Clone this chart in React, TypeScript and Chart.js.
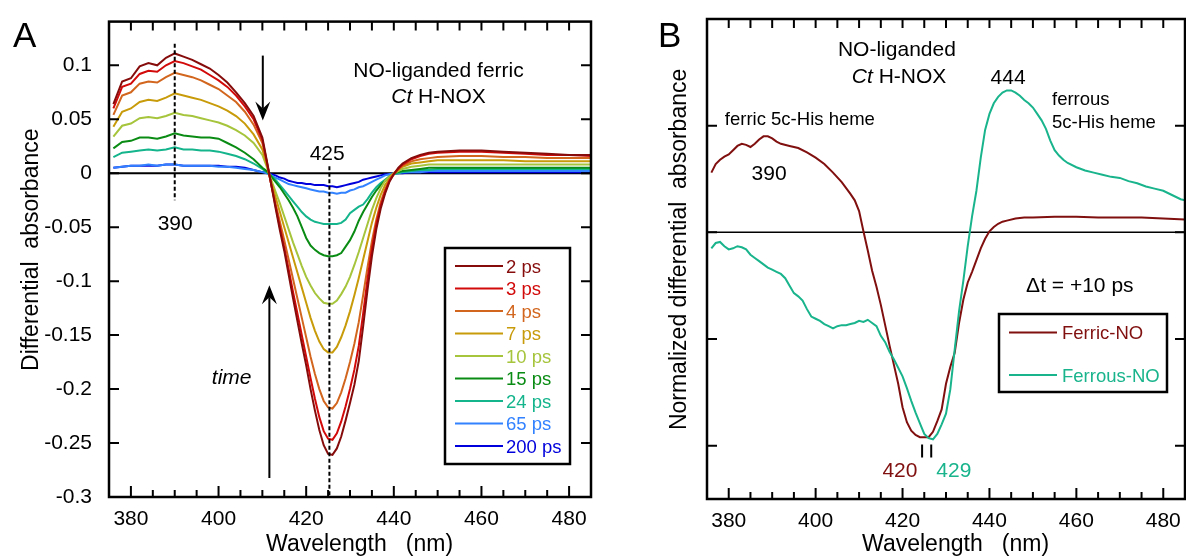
import React, { useEffect, useRef } from 'react';
import { Chart, registerables } from 'chart.js';

Chart.register(...registerables);

const FONT = '"Liberation Sans", Arial, Helvetica, sans-serif';
const INK = '#000';

// ---------------- Panel A data ----------------
const WL_A = [376, 378, 380, 382, 384, 386, 388, 390, 392, 394, 396, 398, 400, 402, 404, 406, 408, 410,
  411, 412, 413, 414, 415, 416, 417, 418, 419, 420, 421, 422, 423, 424, 425, 426, 427, 428, 429, 430,
  431, 432, 433, 434, 435, 436, 437, 438, 439, 440, 441, 442,
  444, 446, 448, 450, 455, 460, 465, 470, 475, 480, 485];

const A_2PS = [0.064, 0.085, 0.088, 0.099, 0.102, 0.100, 0.107, 0.111, 0.108, 0.105, 0.101, 0.097, 0.091, 0.084, 0.075, 0.065, 0.053, 0.033,
  0.012, -0.010, -0.032, -0.053, -0.072, -0.094, -0.116, -0.137, -0.158, -0.178, -0.200, -0.220, -0.238, -0.252, -0.260, -0.261, -0.255, -0.244, -0.229, -0.213,
  -0.196, -0.174, -0.142, -0.108, -0.077, -0.052, -0.033, -0.019, -0.008, -0.001, 0.005, 0.009,
  0.014, 0.017, 0.019, 0.020, 0.021, 0.021, 0.020, 0.019, 0.018, 0.017, 0.017];
const A_3PS = [0.060, 0.080, 0.083, 0.092, 0.095, 0.094, 0.100, 0.104, 0.102, 0.099, 0.096, 0.091, 0.086, 0.080, 0.072, 0.062, 0.050, 0.031,
  0.011, -0.010, -0.030, -0.050, -0.069, -0.089, -0.110, -0.130, -0.150, -0.170, -0.190, -0.209, -0.226, -0.239, -0.246, -0.247, -0.241, -0.230, -0.216, -0.200,
  -0.182, -0.160, -0.130, -0.098, -0.070, -0.047, -0.030, -0.017, -0.007, -0.001, 0.004, 0.008,
  0.013, 0.016, 0.018, 0.019, 0.020, 0.020, 0.019, 0.018, 0.017, 0.017, 0.016];
const A_4PS = [0.054, 0.072, 0.075, 0.083, 0.085, 0.084, 0.089, 0.093, 0.091, 0.089, 0.086, 0.082, 0.078, 0.072, 0.066, 0.057, 0.045, 0.028,
  0.010, -0.010, -0.028, -0.045, -0.062, -0.080, -0.098, -0.116, -0.134, -0.152, -0.170, -0.186, -0.200, -0.211, -0.217, -0.218, -0.213, -0.203, -0.190, -0.175,
  -0.158, -0.138, -0.113, -0.087, -0.063, -0.043, -0.027, -0.015, -0.006, 0.000, 0.004, 0.007,
  0.011, 0.013, 0.014, 0.015, 0.016, 0.016, 0.015, 0.015, 0.014, 0.014, 0.014];
const A_7PS = [0.043, 0.057, 0.060, 0.066, 0.068, 0.067, 0.070, 0.074, 0.072, 0.070, 0.068, 0.065, 0.062, 0.058, 0.053, 0.046, 0.036, 0.022,
  0.008, -0.008, -0.022, -0.036, -0.050, -0.064, -0.078, -0.092, -0.106, -0.120, -0.134, -0.146, -0.156, -0.163, -0.166, -0.166, -0.161, -0.152, -0.141, -0.128,
  -0.113, -0.097, -0.080, -0.063, -0.046, -0.032, -0.020, -0.011, -0.005, 0.000, 0.003, 0.006,
  0.009, 0.010, 0.011, 0.012, 0.012, 0.012, 0.012, 0.011, 0.011, 0.011, 0.011];
const A_10PS = [0.034, 0.044, 0.046, 0.051, 0.052, 0.051, 0.053, 0.056, 0.054, 0.053, 0.051, 0.049, 0.047, 0.044, 0.040, 0.035, 0.028, 0.017,
  0.006, -0.006, -0.017, -0.028, -0.040, -0.052, -0.064, -0.075, -0.086, -0.096, -0.104, -0.111, -0.116, -0.120, -0.121, -0.121, -0.118, -0.112, -0.105, -0.096,
  -0.085, -0.073, -0.060, -0.047, -0.034, -0.023, -0.014, -0.007, -0.003, 0.000, 0.002, 0.004,
  0.006, 0.007, 0.008, 0.008, 0.008, 0.008, 0.008, 0.008, 0.008, 0.008, 0.008];
const A_15PS = [0.023, 0.029, 0.030, 0.033, 0.033, 0.032, 0.034, 0.037, 0.035, 0.034, 0.033, 0.033, 0.032, 0.028, 0.024, 0.019, 0.013, 0.005,
  0.002, -0.003, -0.008, -0.013, -0.019, -0.025, -0.032, -0.040, -0.050, -0.060, -0.067, -0.071, -0.074, -0.076, -0.077, -0.077, -0.076, -0.074, -0.068, -0.062,
  -0.054, -0.044, -0.036, -0.029, -0.022, -0.016, -0.011, -0.007, -0.003, 0.000, 0.001, 0.002,
  0.003, 0.004, 0.005, 0.005, 0.005, 0.005, 0.005, 0.005, 0.005, 0.005, 0.005];
const A_24PS = [0.015, 0.019, 0.020, 0.021, 0.022, 0.021, 0.022, 0.024, 0.022, 0.022, 0.021, 0.021, 0.020, 0.018, 0.016, 0.013, 0.009, 0.004,
  0.001, -0.002, -0.006, -0.011, -0.016, -0.021, -0.026, -0.031, -0.036, -0.040, -0.043, -0.045, -0.046, -0.047, -0.047, -0.047, -0.047, -0.046, -0.043, -0.037,
  -0.034, -0.031, -0.029, -0.024, -0.018, -0.013, -0.009, -0.006, -0.003, -0.001, 0.000, 0.001,
  0.002, 0.003, 0.003, 0.004, 0.004, 0.004, 0.004, 0.004, 0.004, 0.004, 0.004];
const A_65PS = [0.005, 0.006, 0.007, 0.007, 0.008, 0.007, 0.008, 0.008, 0.007, 0.007, 0.007, 0.007, 0.006, 0.006, 0.005, 0.004, 0.003, 0.001,
  0.000, -0.002, -0.004, -0.006, -0.008, -0.010, -0.011, -0.012, -0.013, -0.014, -0.015, -0.016, -0.017, -0.017, -0.018, -0.018, -0.019, -0.018, -0.018, -0.016,
  -0.015, -0.013, -0.012, -0.010, -0.008, -0.006, -0.004, -0.002, -0.001, 0.000, 0.000, 0.001,
  0.001, 0.001, 0.002, 0.002, 0.002, 0.002, 0.002, 0.002, 0.002, 0.002, 0.002];
const A_200PS = [0.005, 0.006, 0.007, 0.007, 0.007, 0.007, 0.008, 0.008, 0.007, 0.007, 0.007, 0.007, 0.007, 0.006, 0.006, 0.005, 0.003, 0.001,
  0.001, -0.001, -0.002, -0.004, -0.005, -0.007, -0.008, -0.009, -0.009, -0.010, -0.010, -0.011, -0.011, -0.011, -0.012, -0.012, -0.013, -0.012, -0.011, -0.010,
  -0.009, -0.008, -0.006, -0.005, -0.004, -0.003, -0.002, -0.001, -0.001, 0.000, 0.000, 0.000,
  0.001, 0.001, 0.001, 0.001, 0.001, 0.001, 0.001, 0.001, 0.001, 0.001, 0.001];

const LABELS_A = ['2 ps', '3 ps', '4 ps', '7 ps', '10 ps', '15 ps', '24 ps', '65 ps', '200 ps'];
const COLORS_A = ['#860c0c', '#d20a0a', '#d2661e', '#c89b0a', '#a6c43c', '#0a8c14', '#14b48c', '#3282ff', '#0000dc'];
const SERIES_A = [A_2PS, A_3PS, A_4PS, A_7PS, A_10PS, A_15PS, A_24PS, A_65PS, A_200PS];

const X_MIN = 375;
const X_MAX = 485;
const X_TICKS = [380, 400, 420, 440, 460, 480];
const X_MINOR_STEP = 5;
const Y_TICKS_A = [-0.3, -0.25, -0.2, -0.15, -0.1, -0.05, 0, 0.05, 0.1];
const Y_LABELS_A = ['-0.3', '-0.25', '-0.2', '-0.15', '-0.1', '-0.05', '0', '0.05', '0.1'];

// ---------------- Panel B data ----------------
const FERRIC_WL = [376, 377, 378, 379, 380, 381, 382, 383, 384, 385, 386, 387, 388, 389, 390, 391, 392,
  394, 396, 398, 400, 402, 404, 406, 408,
  409, 410, 411, 412, 413, 414, 415, 416, 417, 418, 419, 420, 421, 422, 423, 424, 425, 426, 427, 428,
  429, 430, 431, 432, 433, 434, 435, 436, 437, 438, 439, 440, 441, 442, 443, 444,
  446, 448, 450, 455, 460, 465, 470, 475, 480, 485];
const FERRIC_VAL = [0.56, 0.64, 0.68, 0.71, 0.73, 0.77, 0.81, 0.83, 0.82, 0.80, 0.83, 0.87, 0.90, 0.90, 0.88, 0.85, 0.83,
  0.81, 0.79, 0.75, 0.70, 0.64, 0.56, 0.47, 0.36,
  0.30, 0.20, 0.01, -0.17, -0.36, -0.51, -0.68, -0.87, -1.06, -1.24, -1.42, -1.64, -1.78, -1.86, -1.90, -1.92, -1.92, -1.92, -1.87, -1.77,
  -1.66, -1.42, -1.26, -1.13, -0.85, -0.63, -0.47, -0.37, -0.26, -0.15, -0.06, 0.01, 0.05, 0.08, 0.10, 0.11,
  0.13, 0.14, 0.14, 0.145, 0.145, 0.14, 0.14, 0.14, 0.13, 0.12];

const FERROUS_WL = [376, 377, 378, 379, 380, 381, 382, 383, 384, 385, 386, 387, 388, 389, 390, 391, 392, 393, 394, 395,
  396, 397, 398, 399, 400, 401, 402, 403, 404, 405, 406, 407, 408, 409, 410, 411, 412, 413, 414, 415,
  416, 417, 418, 419, 420, 421, 422, 423, 424, 425, 426, 427, 428, 429, 430, 431, 432, 433, 434, 435,
  436, 437, 438, 439, 440, 441, 442, 443, 444, 445, 446, 447, 448, 449, 450, 451, 452, 453, 454, 455,
  456, 457, 458, 460, 462, 464, 466, 468, 470, 472, 474, 476, 478, 480, 482, 484, 485];
const FERROUS_VAL = [-0.15, -0.10, -0.09, -0.13, -0.16, -0.15, -0.13, -0.14, -0.16, -0.21, -0.24, -0.27, -0.30, -0.33, -0.35, -0.37, -0.39, -0.43, -0.50, -0.57,
  -0.60, -0.64, -0.72, -0.79, -0.81, -0.83, -0.86, -0.88, -0.90, -0.88, -0.87, -0.87, -0.86, -0.85, -0.83, -0.84, -0.82, -0.85, -0.88, -0.97,
  -1.03, -1.12, -1.19, -1.27, -1.35, -1.46, -1.58, -1.69, -1.79, -1.89, -1.93, -1.94, -1.89, -1.80, -1.70, -1.47, -1.10, -0.74, -0.45, -0.13,
  0.15, 0.39, 0.70, 0.96, 1.11, 1.21, 1.27, 1.31, 1.33, 1.33, 1.31, 1.28, 1.24, 1.21, 1.17, 1.11, 1.05, 0.97, 0.86, 0.77,
  0.72, 0.68, 0.65, 0.61, 0.58, 0.56, 0.54, 0.52, 0.51, 0.48, 0.46, 0.43, 0.41, 0.39, 0.35, 0.31, 0.30];

const LABELS_B = ['Ferric-NO', 'Ferrous-NO'];
const COLORS_B = ['#800f0f', '#19b48c'];
const Y_TICKS_B = [-2, -1, 0, 1];

// ---------------- drawing helpers ----------------
type Part = [string, boolean];

function txt(ctx: CanvasRenderingContext2D, s: string, x: number, y: number, size: number,
  color = INK, align: CanvasTextAlign = 'center', italic = false) {
  ctx.font = `${italic ? 'italic ' : ''}${size}px ${FONT}`;
  ctx.fillStyle = color;
  ctx.textAlign = align;
  ctx.textBaseline = 'alphabetic';
  ctx.fillText(s, x, y);
}

function mixed(ctx: CanvasRenderingContext2D, parts: Part[], cx: number, y: number, size: number) {
  let w = 0;
  for (const [s, it] of parts) {
    ctx.font = `${it ? 'italic ' : ''}${size}px ${FONT}`;
    w += ctx.measureText(s).width;
  }
  let x = cx - w / 2;
  for (const [s, it] of parts) {
    ctx.font = `${it ? 'italic ' : ''}${size}px ${FONT}`;
    ctx.fillStyle = INK;
    ctx.textAlign = 'left';
    ctx.textBaseline = 'alphabetic';
    ctx.fillText(s, x, y);
    x += ctx.measureText(s).width;
  }
}

function arrow(ctx: CanvasRenderingContext2D, x: number, yFrom: number, yTip: number) {
  const dir = Math.sign(yTip - yFrom);
  const headL = 19, headW = 7.5, notch = 12;
  ctx.save();
  ctx.strokeStyle = '#000';
  ctx.fillStyle = '#000';
  ctx.lineWidth = 2;
  ctx.beginPath();
  ctx.moveTo(x, yFrom);
  ctx.lineTo(x, yTip - dir * notch);
  ctx.stroke();
  ctx.beginPath();
  ctx.moveTo(x, yTip);
  ctx.lineTo(x - headW, yTip - dir * headL);
  ctx.lineTo(x, yTip - dir * notch);
  ctx.lineTo(x + headW, yTip - dir * headL);
  ctx.closePath();
  ctx.fill();
  ctx.restore();
}

function drawZero(chart: any, width: number) {
  const { ctx, chartArea: ca, scales } = chart;
  const y0 = scales.y.getPixelForValue(0);
  ctx.save();
  ctx.strokeStyle = '#000';
  ctx.lineWidth = width;
  ctx.beginPath();
  ctx.moveTo(ca.left, y0);
  ctx.lineTo(ca.right, y0);
  ctx.stroke();
  ctx.restore();
}

function drawFrame(chart: any) {
  const { ctx, chartArea: ca, scales } = chart;
  const xs = scales.x, ys = scales.y;
  ctx.save();
  ctx.strokeStyle = '#000';
  ctx.lineWidth = 2;
  ctx.beginPath();
  for (let v = Math.ceil(xs.min / X_MINOR_STEP) * X_MINOR_STEP; v <= xs.max; v += X_MINOR_STEP) {
    const px = xs.getPixelForValue(v);
    if (px <= ca.left + 2 || px >= ca.right - 2) continue;
    const len = X_TICKS.includes(v) ? 11 : 7;
    ctx.moveTo(px, ca.bottom);
    ctx.lineTo(px, ca.bottom - len);
    ctx.moveTo(px, ca.top);
    ctx.lineTo(px, ca.top + 9);
  }
  for (const t of ys.ticks) {
    const py = ys.getPixelForValue(t.value);
    if (py >= ca.bottom - 2 || py <= ca.top + 2) continue;
    ctx.moveTo(ca.left, py);
    ctx.lineTo(ca.left + 10, py);
    ctx.moveTo(ca.right, py);
    ctx.lineTo(ca.right - 10, py);
  }
  ctx.stroke();
  ctx.lineWidth = 2.5;
  ctx.strokeRect(ca.left, ca.top, ca.right - ca.left, ca.bottom - ca.top);
  ctx.restore();
}

function drawLegend(chart: any, box: [number, number, number, number], rowY: number, gap: number,
  lx0: number, lx1: number, tx: number, size: number) {
  const { ctx } = chart;
  ctx.save();
  ctx.fillStyle = '#fff';
  ctx.fillRect(box[0], box[1], box[2] - box[0], box[3] - box[1]);
  ctx.strokeStyle = '#000';
  ctx.lineWidth = 2.5;
  ctx.strokeRect(box[0], box[1], box[2] - box[0], box[3] - box[1]);
  chart.data.datasets.forEach((ds: any, i: number) => {
    const y = rowY + i * gap;
    ctx.strokeStyle = ds.borderColor;
    ctx.lineWidth = 2;
    ctx.beginPath();
    ctx.moveTo(lx0, y);
    ctx.lineTo(lx1, y);
    ctx.stroke();
    txt(ctx, ds.label, tx, y + size * 0.36, size, ds.borderColor, 'left');
  });
  ctx.restore();
}

function dashed(ctx: CanvasRenderingContext2D, x: number, y0: number, y1: number) {
  ctx.save();
  ctx.strokeStyle = '#000';
  ctx.lineWidth = 2;
  ctx.setLineDash([4, 2.5]);
  ctx.beginPath();
  ctx.moveTo(x, y0);
  ctx.lineTo(x, y1);
  ctx.stroke();
  ctx.restore();
}

// ---------------- chart configs ----------------
function baseScales(yMin: number, yMax: number, yTicks: number[], yLabels: string[] | null,
  yWidth: number, xHeight: number, yTitle: string, yTitlePad: number) {
  return {
    x: {
      type: 'linear',
      min: X_MIN,
      max: X_MAX,
      grid: { display: false },
      border: { display: false },
      afterBuildTicks: (s: any) => { s.ticks = X_TICKS.map((v) => ({ value: v })); },
      afterFit: (s: any) => { s.height = xHeight; },
      ticks: { autoSkip: false, maxRotation: 0, padding: 2, color: INK, font: { size: 21, family: FONT },
        callback: (v: number) => String(v) },
      title: { display: true, text: '   Wavelength   (nm)', color: INK, font: { size: 23, family: FONT },
        padding: { top: 0, bottom: 0 } },
    },
    y: {
      type: 'linear',
      min: yMin,
      max: yMax,
      grid: { display: false },
      border: { display: false },
      afterBuildTicks: (s: any) => { s.ticks = yTicks.map((v) => ({ value: v })); },
      afterFit: (s: any) => { s.width = yWidth; },
      ticks: {
        display: yLabels !== null, autoSkip: false, padding: 9, color: INK, font: { size: 21, family: FONT },
        callback: (_v: number, i: number) => (yLabels ? yLabels[i] : ''),
      },
      title: { display: true, text: yTitle, color: INK, font: { size: 23, family: FONT },
        padding: { top: yTitlePad, bottom: 0 } },
    },
  };
}

function configA(): any {
  const plugin = {
    id: 'panelA',
    beforeDatasetsDraw(chart: any) { drawZero(chart, 2); },
    afterDatasetsDraw(chart: any) {
      const { ctx, scales } = chart;
      const X = (v: number) => scales.x.getPixelForValue(v);
      const Y = (v: number) => scales.y.getPixelForValue(v);
      dashed(ctx, X(390), Y(0.12), Y(-0.025));
      dashed(ctx, X(425.3), Y(0.0064), Y(-0.3));
      arrow(ctx, X(410.1), Y(0.109), Y(0.0488));
      arrow(ctx, X(411.6), Y(-0.2824), Y(-0.1038));
      drawFrame(chart);
      txt(ctx, 'A', 13, 47, 35, INK, 'left');
      txt(ctx, 'NO-liganded ferric', X(450.2), Y(0.089), 21);
      mixed(ctx, [['Ct', true], [' H-NOX', false]], X(450.2), Y(0.0651), 21);
      txt(ctx, '425', X(424.8), Y(0.0119), 21);
      txt(ctx, '390', X(390.1), Y(-0.0523), 21);
      txt(ctx, 'time', X(403), Y(-0.1954), 21, INK, 'center', true);
      drawLegend(chart, [445, 248, 570, 464], 266, 22.5, 455, 503, 506, 18.5);
    },
  };
  return {
    type: 'line',
    data: {
      datasets: SERIES_A.map((s, i) => ({
        label: LABELS_A[i],
        data: WL_A.map((x, j) => ({ x, y: s[j] })),
        borderColor: COLORS_A[i],
        borderWidth: 2,
        pointRadius: 0,
        tension: 0,
        fill: false,
      })),
    },
    options: {
      animation: false,
      responsive: false,
      devicePixelRatio: 1,
      layout: { padding: { top: 17, right: 9, left: 0, bottom: 0 } },
      plugins: { legend: { display: false }, tooltip: { enabled: false } },
      scales: baseScales(-0.3, 0.1405, Y_TICKS_A, Y_LABELS_A, 109, 61, '   Differential  absorbance', 18),
    },
    plugins: [plugin],
  };
}

function configB(): any {
  const plugin = {
    id: 'panelB',
    beforeDatasetsDraw(chart: any) { drawZero(chart, 1.5); },
    afterDatasetsDraw(chart: any) {
      const { ctx, scales } = chart;
      const X = (v: number) => scales.x.getPixelForValue(v);
      const Y = (v: number) => scales.y.getPixelForValue(v);
      drawFrame(chart);
      txt(ctx, 'B', 58, 47, 35, INK, 'left');
      txt(ctx, 'NO-liganded', X(418.7), Y(1.654), 21);
      mixed(ctx, [['Ct', true], [' H-NOX', false]], X(419.2), Y(1.402), 21);
      txt(ctx, '444', X(444.3), Y(1.393), 21);
      txt(ctx, 'ferric 5c-His heme', X(379.1), Y(1.009), 18.5, INK, 'left');
      txt(ctx, '390', X(389.3), Y(0.495), 21);
      txt(ctx, 'ferrous', X(454.4), Y(1.196), 18.5, INK, 'left');
      txt(ctx, '5c-His heme', X(454.4), Y(0.981), 18.5, INK, 'left');
      txt(ctx, '\u0394t = +10 ps', X(460.8), Y(-0.561), 21);
      txt(ctx, '420', X(419.4), Y(-2.29), 21, COLORS_B[0]);
      txt(ctx, '429', X(431.8), Y(-2.29), 21, COLORS_B[1]);
      ctx.save();
      ctx.strokeStyle = '#000';
      ctx.lineWidth = 2;
      ctx.beginPath();
      ctx.moveTo(X(424.5), Y(-1.99));
      ctx.lineTo(X(424.5), Y(-2.11));
      ctx.moveTo(X(426.6), Y(-1.99));
      ctx.lineTo(X(426.6), Y(-2.11));
      ctx.stroke();
      ctx.restore();
      drawLegend(chart, [399, 314, 567, 392], 332.5, 42.5, 409, 457, 462, 18.5);
    },
  };
  return {
    type: 'line',
    data: {
      datasets: [
        { label: LABELS_B[0], data: FERRIC_WL.map((x, j) => ({ x, y: FERRIC_VAL[j] })), borderColor: COLORS_B[0],
          borderWidth: 2, pointRadius: 0, tension: 0, fill: false, order: 1 },
        { label: LABELS_B[1], data: FERROUS_WL.map((x, j) => ({ x, y: FERROUS_VAL[j] })), borderColor: COLORS_B[1],
          borderWidth: 2, pointRadius: 0, tension: 0, fill: false, order: 0 },
      ],
    },
    options: {
      animation: false,
      responsive: false,
      devicePixelRatio: 1,
      layout: { padding: { top: 19, right: 1, left: 0, bottom: 0 } },
      plugins: { legend: { display: false }, tooltip: { enabled: false } },
      scales: baseScales(-2.5, 2, Y_TICKS_B, null, 107, 59, '   Normalized differential  absorbance', 66),
    },
    plugins: [plugin],
  };
}

function Panel({ make, left, width }: { make: () => any; left: number; width: number }) {
  const ref = useRef<HTMLCanvasElement>(null);
  useEffect(() => {
    const chart = new Chart(ref.current as HTMLCanvasElement, make());
    return () => chart.destroy();
  }, []);
  return (
    <canvas ref={ref} width={width} height={558}
      style={{ position: 'absolute', left, top: 0, width, height: 558 }} />
  );
}

export default function App() {
  return (
    <div style={{ position: 'absolute', left: 0, top: 0, width: 1186, height: 558, background: '#fff', overflow: 'hidden' }}>
      <Panel make={configA} left={0} width={600} />
      <Panel make={configB} left={600} width={586} />
    </div>
  );
}
